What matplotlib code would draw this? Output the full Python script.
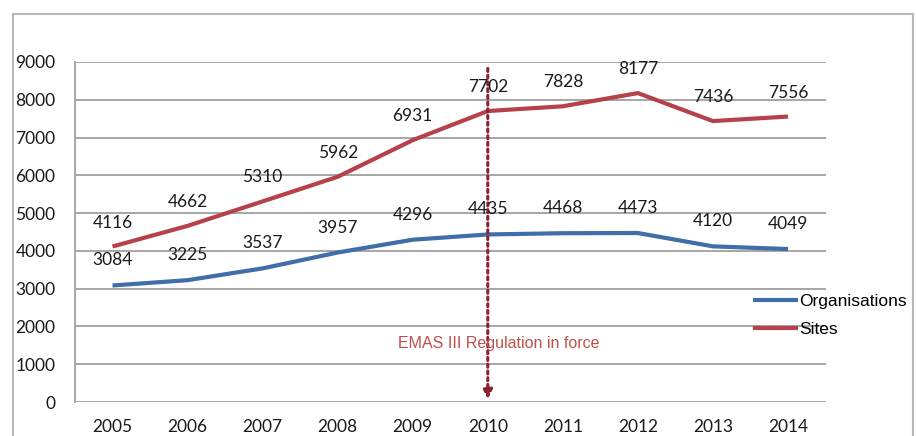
import matplotlib
matplotlib.use("Agg")
import matplotlib.pyplot as plt
from matplotlib.patches import Rectangle

years = [2005, 2006, 2007, 2008, 2009, 2010, 2011, 2012, 2013, 2014]
organisations = [3084, 3225, 3537, 3957, 4296, 4435, 4468, 4473, 4120, 4049]
sites = [4116, 4662, 5310, 5962, 6931, 7702, 7828, 8177, 7436, 7556]
yticks = [0, 1000, 2000, 3000, 4000, 5000, 6000, 7000, 8000, 9000]
event_year = 2010
event_label = "EMAS III Regulation in force"

plt.rcParams['font.family'] = ['Lato', 'DejaVu Sans']

W, H = 916, 436
fig = plt.figure(figsize=(W / 100, H / 100), dpi=100)
# outer frame
fig.patches.append(Rectangle((13 / W, -0.1), (913 - 13) / W, 1.1 - 14 / H,
                             transform=fig.transFigure, fill=False,
                             edgecolor='#b8b8b8', linewidth=1.5))

left, right = 75 / W, 825.5 / W
top, bottom = 1 - 62 / H, 1 - 402 / H
ax = fig.add_axes([left, bottom, right - left, top - bottom])

xs = list(range(len(years)))
blue = '#3f6ea8'
red = '#b5424a'
ax.plot(xs, organisations, color=blue, linewidth=3, solid_joinstyle='round',
        solid_capstyle='butt', label='Organisations', zorder=3)
ax.plot(xs, sites, color=red, linewidth=3, solid_joinstyle='round',
        solid_capstyle='butt', label='Sites', zorder=3)

ax.set_xlim(-0.5, len(years) - 0.5)
ax.set_ylim(0, 9000)
ax.set_yticks(yticks)
ax.set_yticklabels([str(v) for v in yticks])
ax.set_xticks(xs)
ax.set_xticklabels([str(y) for y in years])
ax.tick_params(axis='both', length=0, labelsize=12.5, colors='#1a1a1a')
ax.tick_params(axis='y', pad=14)
ax.tick_params(axis='x', pad=12)
ax.yaxis.grid(True, color='#a6a6a6', linewidth=1.4)
ax.set_axisbelow(True)
for s in ['top', 'right', 'bottom']:
    ax.spines[s].set_visible(False)
ax.spines['left'].set_color('#a6a6a6')
ax.spines['left'].set_linewidth(1.4)

for x, v in zip(xs, sites):
    ax.annotate(str(v), (x, v), xytext=(0, 24), textcoords='offset pixels',
                ha='center', va='center', fontsize=12.5, color='#1a1a1a', zorder=5)
for x, v in zip(xs, organisations):
    ax.annotate(str(v), (x, v), xytext=(0, 25), textcoords='offset pixels',
                ha='center', va='center', fontsize=12.5, color='#1a1a1a', zorder=5)

ex = years.index(event_year)
ax.annotate('', xy=(ex, 0), xytext=(ex, 9000 - 170),
            arrowprops=dict(arrowstyle='-|>', linestyle=(0, (1, 1.2)),
                            color='#8a2030', linewidth=2.2, mutation_scale=14,
                            shrinkA=0, shrinkB=2), zorder=4)
ax.text(ex + 0.15, 1560, event_label, ha='center', va='center', fontsize=11.5,
        color='#c0504d', family=['Liberation Sans', 'DejaVu Sans'], zorder=5)

leg = fig.legend(loc='upper left', bbox_to_anchor=(753 / W, 1 - 294 / H),
                 frameon=False, handlelength=2.6, handletextpad=0.05,
                 borderaxespad=0, borderpad=0, labelspacing=0.75,
                 prop={'family': ['Liberation Sans', 'DejaVu Sans'], 'size': 12.5})

fig.savefig('out.png', dpi=100)
